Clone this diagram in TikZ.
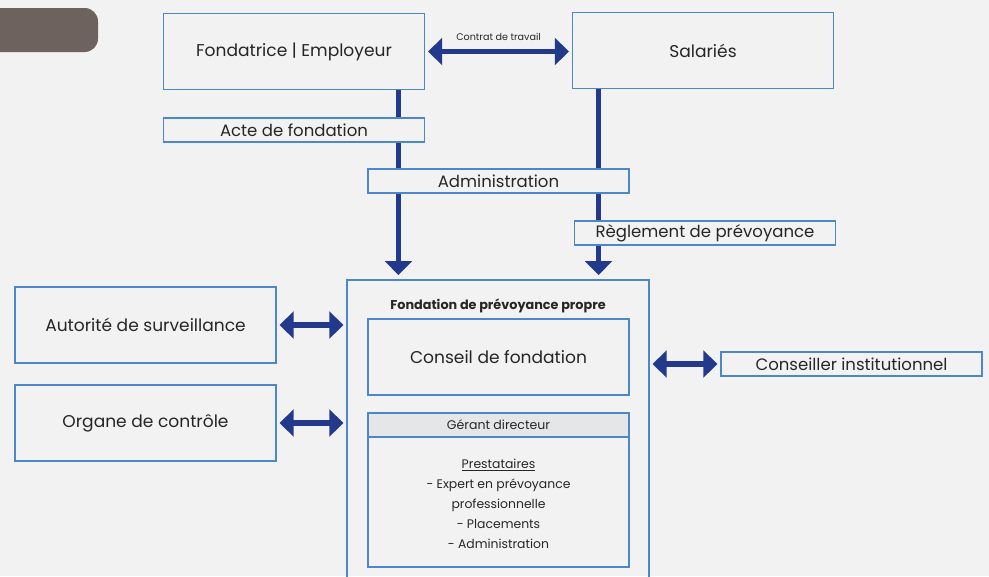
\documentclass[tikz,border=0pt]{standalone}
\usepackage{fontspec}
\setmainfont{Poppins}
\usetikzlibrary{arrows.meta,positioning,calc}
\pgfdeclarelayer{canvas}
\pgfdeclarelayer{back}
\pgfsetlayers{canvas,back,main}
\definecolor{bgcol}{HTML}{F2F2F2}
\definecolor{tabcol}{HTML}{6E625E}
\definecolor{boxblue}{HTML}{4C87C9}
\definecolor{arrblue}{HTML}{233A8C}
\definecolor{txtgray}{HTML}{262626}
\definecolor{hdrgray}{HTML}{E5E6E8}

\begin{document}
\begin{tikzpicture}[x=0.75pt,y=-0.75pt,
  box/.style={draw=boxblue,line width=1.4pt,fill=bgcol,minimum width=195.75pt,minimum height=57pt,inner sep=0pt,text=txtgray,font=\fontsize{12.8}{15}\selectfont},
  tag/.style={box,minimum height=18pt,font=\fontsize{12.4}{14}\selectfont},
  hdrbox/.style={box,fill=hdrgray,minimum height=18pt,font=\fontsize{9.4}{11}\selectfont},
  frame/.style={draw=boxblue,line width=1.4pt,minimum width=226.5pt,minimum height=240pt,inner sep=0pt},
  title/.style={text=txtgray,font=\fontsize{9.6}{11}\selectfont\bfseries,inner sep=0pt},
  list/.style={text=txtgray,font=\fontsize{9.3}{15}\selectfont,align=center,inner sep=0pt},
  small/.style={text=txtgray,font=\fontsize{7.2}{8}\selectfont,inner sep=0pt},
  link/.style={draw=arrblue,line width=3.8pt,-{Triangle[length=10.5pt,width=20pt]}},
  dlink/.style={link,{Triangle[length=10.5pt,width=20pt]}-{Triangle[length=10.5pt,width=20pt]},shorten <=2pt,shorten >=2pt},
]
\useasboundingbox (0,0) rectangle (989,576);
\begin{pgfonlayer}{canvas}
\fill[bgcol] (0,0) rectangle (989,576);
\fill[tabcol,rounded corners=10pt] (-30,8) rectangle (98,52);
\end{pgfonlayer}

% top row
\node[box] (found) at (294,51.5) {Fondatrice | Employeur};
\node[box] (sal) at (703,50.5) {Salariés};
\node[small] (contract) at (498.5,37) {Contrat de travail};
\draw[dlink] (found.east) -- (found.east -| sal.west);

% documents
\node[tag] (acte) at (294,130) {Acte de fondation};
\node[tag] (admin) at (498.5,181) {Administration};
\node[tag] (regl) at (705,233) {Règlement de prévoyance};

% foundation
\node[frame] (fond) at (498,440) {};
\node[title] (fondlbl) at (498,306) {Fondation de prévoyance propre};
\node[box] (conseil) at (498.5,357) {Conseil de fondation};
\node[box,minimum height=115.5pt] (gerant) at (498.5,490) {};
\node[hdrbox,anchor=north] (gerhd) at (gerant.north) {Gérant directeur};
\node[list] (prest) at (498.5,504) {\underline{Prestataires}\\- Expert en prévoyance\\professionnelle\\- Placements\\- Administration};

% sides
\node[box] (autor) at (145.5,325) {Autorité de surveillance};
\node[box] (organe) at (145.5,423) {Organe de contrôle};
\node[tag] (consinst) at (851.5,364) {Conseiller institutionnel};
\draw[dlink] (autor.east) -- (autor.east -| fond.west);
\draw[dlink] (organe.east) -- (organe.east -| fond.west);
\draw[dlink] (consinst.west) -- (consinst.west -| fond.east);

% vertical links behind the document boxes
\coordinate (lfoot) at ([xshift=-20.25pt]found.south east);
\coordinate (rfoot) at ([xshift=20.25pt]sal.south west);
\begin{pgfonlayer}{back}
\draw[link,shorten >=3pt] (lfoot) -- (lfoot |- fond.north);
\draw[link,shorten >=3pt] (rfoot) -- (rfoot |- fond.north);
\end{pgfonlayer}
\end{tikzpicture}
\end{document}
